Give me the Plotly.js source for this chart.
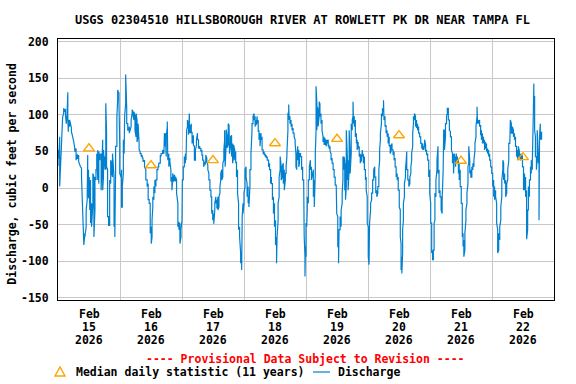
<!DOCTYPE html>
<html><head><meta charset="utf-8">
<script src="https://cdn.plot.ly/plotly-3.0.1.min.js"></script>
<style>html,body{margin:0;padding:0;background:#fff}#chart{width:576px;height:384px}</style>
</head><body><div id="chart"></div>
<script>
// ---- Data ----
const chartTitle = 'USGS 02304510 HILLSBOROUGH RIVER AT ROWLETT PK DR NEAR TAMPA FL';
const yAxisLabel = 'Discharge, cubic feet per second';
const dayNumbers = [15, 16, 17, 18, 19, 20, 21, 22];
const monthLabel = 'Feb';
const yearLabel = '2026';
const yTickValues = [-150, -100, -50, 0, 50, 100, 150, 200];

// Median daily statistic (11 years), plotted at noon of each day
const medianDays = [15, 16, 17, 18, 19, 20, 21, 22];
const medianValues = [54, 31, 38, 61, 67, 72, 37, 42];

// Discharge: hour of day -> observed value(s) (lows/highs of the jagged trace)
const feb15Hours = [0,0.3,0.65,1,1.4,1.8,2.2,2.6,2.9,3.2,3.5,3.8,4,4.5,5.2,5.7,6.1,6.5,7,7.5,8,8.7,9.1,9.6,10,10.4,10.9,11.3,11.5,11.8,12.1,12.3,12.6,13,13.5,13.9,14.3,14.7,15,15.4,15.8,16.2,16.7,17.3,17.6,18.2,18.5,18.8,19.2,19.6,20,20.4,20.8,21.1,21.7,22,22.3,22.8,23.1,23.3,23.6,23.9];
const feb15Flow = [[30,52],[40],[70,2],[35],[52],[97],[102,109],[104],[108,100],[93,88],[100],[131,93],[77,93],[84,93],[82,77],[70],[66,63],[54,50],[54,38],[46,40],[45,36],[29],[27,15],[-30,-44],[-67,-78],[-62,-67],[-53,-30],[-16,-12],[45,-10],[25,-14],[15,-26],[-12,-30],[11,-48],[-21,-53],[-21,20],[15,-67],[-30,15],[11,25],[25,47],[11,52],[6,50],[38,45],[47,-3],[66,-3],[15,52],[25,43],[25,116],[75,29],[25,-39],[-39,-51],[-51,11],[6,38],[34,20],[15,47],[15,-53],[-39,-67],[25,57],[57,98],[120,134],[127,132],[130,116],[61,20]];

const feb16Hours = [0.4,0.6,0.9,1.3,1.6,1.8,2.2,2.6,3,3.2,3.6,4.3,4.7,5.1,5.4,5.8,6.2,6.6,7,7.4,7.8,8.2,8.6,8.9,9.5,10,10.5,10.9,11.3,11.7,12.1,12.4,12.7,13.1,13.5,13.9,14.3,14.7,15,15.6,15.9,16.5,17,17.2,17.5,17.9,18.3,18.5,18.9,19.3,19.7,20.1,20.4,20.7,21.1,21.5,21.9,22.4,22.8,23.2,23.6];
const feb16Flow = [[15,20],[25,-26],[-26,2],[20,66],[47,70],[75,98],[116,155],[109,88],[88,79],[86,79],[84,75],[84,93],[102,107],[104,98],[93,104],[98,79],[70,102],[93,63],[70,88],[61,52],[50,47],[47,43],[45,41],[41,36],[38,29],[25,11],[11,2],[6,-16],[-16,-21],[-21,-62],[-53,-76],[-67,-44],[-26,-12],[-16,2],[-7,11],[2,11],[11,25],[25,29],[29,34],[34,45],[43,47],[47,52],[47,57],[63,75],[57,75],[43,70],[84,91],[75,38],[47,29],[41,36],[25,9],[15,-3],[11,20],[15,9],[11,18],[9,15],[11,-7],[-21,-53],[-46,-57],[-48,-76],[-67,-57]];

const feb17Hours = [0,0.13,0.5,0.9,1.3,1.55,1.8,2.1,2.5,2.85,3.2,3.6,3.9,4.4,4.8,5.2,5.6,6,6.4,6.9,7.3,7.7,8,8.4,8.8,9.2,9.6,10,10.4,10.8,11.2,11.5,11.9,12.3,12.7,13.1,13.5,13.9,14.3,14.7,15,15.4,15.8,16.2,16.5,16.7,17.1,17.5,17.9,18.2,18.4,18.8,19.2,19.6,20,20.4,20.8,21.1,21.5,21.9,22.3,22.7,23.1,23.3,23.6];
const feb17Flow = [[-44,-21],[-7,11],[11,29],[29,43],[34,47],[45,38],[79],[84,93],[84,73],[102,75],[86,75],[88,75],[77,61],[72,59],[57,38],[38,52],[59,66],[75,66],[66,54],[57,54],[54,50],[52,45],[45,38],[38,29],[36,31],[36,45],[41,36],[31,25],[20,11],[11,-3],[-3,-12],[-12,-35],[-30,-44],[-35,-49],[-30,-21],[-12,-21],[-16,-28],[-12,-30],[-26,-12],[-7,2],[11,20],[25,11],[15,34],[38,52],[66,79],[70,29],[60,80],[70,55],[60,88],[86,70],[75,47],[57,70],[72,43],[61,34],[43,59],[52,38],[50,34],[36,15],[25,-7],[-21,-57],[-53,-67],[-89,-103],[-94,-112],[-103,-39],[-21,-35]];

const feb18Hours = [0,0.4,0.8,1.2,1.6,1.9,2.3,2.7,3.1,3.5,3.9,4.3,4.7,5.1,5.5,5.8,6.2,6.6,7,7.4,7.8,8.2,8.6,9,9.5,9.9,10.3,10.6,11,11.4,11.8,12.2,12.6,12.8,13.2,13.6,14,14.4,14.8,15.2,15.6,16,16.3,16.6,17,17.3,17.5,17.8,18.2,18.6,19,19.4,19.8,20.1,20.4,20.8,21.2,21.5,21.9,22.3,22.7,23.1,23.3,23.6,23.8];
const feb18Flow = [[-21,-7],[2,25],[29,15],[6,-12],[2,-21],[-12,-26],[2,25],[25,47],[79,88],[88,98],[102,93],[98,84],[93,86],[98,88],[93,77],[79,66],[75,57],[75,66],[70,52],[52,47],[50,45],[47,43],[45,41],[43,38],[38,29],[34,25],[25,6],[15,6],[6,-16],[-12,-35],[-21,-53],[-44,-78],[-67,-103],[-85,-67],[-44,-21],[-12,15],[25,43],[29,11],[15,29],[34,6],[25,-3],[11,20],[20,29],[43,47],[79,102],[102,114],[111,93],[98,88],[93,84],[88,79],[82,75],[75,70],[66,61],[47,29],[25,40],[57,38],[52,29],[34,47],[47,43],[43,25],[29,11],[11,-3],[-21,-66],[-94,-121],[-112,-80]];

const feb19Hours = [0,0.26,0.5,0.9,1.3,1.7,2.1,2.85,3.2,3.6,3.9,4.2,4.4,4.7,5.1,5.4,5.8,6.2,6.6,7,7.4,7.8,8.2,8.6,8.9,9.3,9.7,10.1,10.5,10.9,11.3,11.7,11.9,12.3,12.6,12.8,13.2,13.6,14,14.3,14.7,15,15.3,15.6,16,16.3,16.7,17.1,17.5,17.9,18.2,18.4,18.7,19.1,19.5,19.8,20.2,20.6,21,21.4,21.8,22.2,22.6,23,23.3,23.7];
const feb19Flow = [[-94,-48],[-48,-53],[-30,-12],[-21,11],[11,29],[38,25],[29,11],[25,-12],[11,-26],[20,47],[79,139],[116,79],[102,111],[107,84],[98,118],[115,98],[102,88],[93,79],[70,63],[70,59],[68,59],[66,57],[66,61],[66,57],[59,54],[57,50],[47,38],[41,34],[34,25],[25,15],[15,4],[4,-12],[-12,-35],[-39,-80],[-80,-103],[-94,-57],[-57,-39],[-53,-30],[-21,-7],[11,43],[25,43],[38,-3],[34,-16],[2,79],[43,11],[38,-3],[25,79],[47,20],[47,88],[79,93],[98,118],[111,88],[98,84],[93,70],[75,61],[66,52],[63,54],[57,43],[47,34],[45,36],[52,43],[47,34],[43,25],[25,11],[15,-3],[-12,-48]];

const feb20Hours = [0.1,0.4,0.6,1,1.4,1.8,2.2,2.6,3,3.4,3.8,4.2,4.5,4.8,5.2,5.6,6,6.2,6.6,7,7.4,7.8,8.2,8.6,8.9,9.3,9.7,10.1,10.5,10.9,11.3,11.7,12.1,12.5,12.8,13.1,13.4,13.7,14.1,14.5,14.8,15,15.4,15.8,16.2,16.6,16.9,17.3,17.6,18,18.4,18.8,19.2,19.6,20,20.4,20.8,21.2,21.6,21.9,22.3,22.7,23.1,23.5,23.9];
const feb20Flow = [[-53,-94],[-105,-76],[-76,-48],[-30,-21],[-16,-7],[-7,11],[11,25],[29,15],[15,-7],[-3,-12],[-7,2],[2,25],[38,52],[66,75],[88,102],[98,109],[104,120],[111,93],[98,84],[86,75],[79,70],[75,61],[70,57],[59,47],[50,57],[61,52],[52,45],[50,38],[41,29],[29,15],[20,11],[15,-3],[-3,-26],[-30,-67],[-76,-112],[-94,-117],[-89,-57],[-44,-21],[-12,6],[15,25],[38,47],[50,25],[25,11],[11,2],[6,15],[20,29],[38,47],[57,75],[88,98],[93,102],[98,84],[93,82],[88,79],[84,75],[75,70],[70,61],[61,54],[61,52],[57,52],[59,66],[59,50],[52,45],[47,38],[38,15],[25,-7]];

const feb21Hours = [0.26,0.65,1,1.3,1.6,1.9,2.3,2.7,3.1,3.5,3.9,4.3,4.7,5.1,5.3,5.6,6,6.4,6.7,7.1,7.5,7.9,8.3,8.7,9.1,9.5,9.9,10.2,10.6,11,11.3,11.7,12.1,12.5,12.8,13.1,13.5,13.9,14.3,14.7,15,15.4,15.8,16.2,16.6,17,17.4,17.8,18.2,18.4,18.8,19.2,19.6,19.9,20.3,20.7,21.1,21.5,21.9,22.3,22.7,23.1,23.5,23.9];
const feb21Flow = [[-21,-48],[-48,-89],[-85,-98],[-98,-85],[-85,-48],[-44,-7],[-12,11],[25,38],[57,20],[25,-7],[-3,-12],[-12,-30],[-35,-16],[25,57],[57,79],[79,52],[70,88],[88,98],[102,109],[109,93],[93,79],[77,70],[70,52],[47,34],[47,20],[47,38],[43,29],[47,38],[43,34],[38,20],[34,11],[25,2],[2,-21],[-21,-67],[-62,-80],[-71,-94],[-85,-62],[-44,-30],[-21,-7],[6,29],[34,57],[38,20],[25,15],[15,29],[25,34],[29,38],[52,61],[70,84],[98,111],[98,88],[93,88],[93,84],[86,72],[79,66],[75,61],[70,61],[66,52],[63,54],[61,50],[54,47],[52,43],[47,38],[38,29],[29,20]];

const feb22Hours = [0.26,0.65,1,1.4,1.8,2.2,2.6,3,3.4,3.8,4.2,4.5,4.9,5.3,5.7,6.1,6.5,6.9,7.1,7.5,7.9,8.3,8.7,9.1,9.5,9.9,10.2,10.6,11,11.4,11.8,12.2,12.6,13,13.4,13.8,14.1,14.5,14.9,15.2,15.6,16,16.2,16.5,16.8,17.2,17.5,17.9,18.2,18.4,18.7,18.9,19.2];
const feb22Flow = [[20,2],[11,-12],[2,-16],[-3,-12],[-21,-48],[-57,-89],[-85,-62],[-71,-53],[-44,-26],[-12,11],[25,38],[34,11],[20,6],[11,-12],[-7,6],[11,25],[38,61],[61,75],[79,93],[88,75],[75,84],[79,70],[75,66],[70,57],[57,43],[52,38],[47,57],[50,41],[47,38],[41,47],[43,29],[29,-3],[20,-3],[15,-12],[-3,-70],[-57,-30],[-30,2],[-12,11],[11,29],[20,38],[25,34],[102,134],[143,125],[125,79],[70,43],[43,25],[43,79],[47,34],[43,-44],[43,70],[88,66],[84,70],[77,66]];

// ---- Build traces ----
function pad(n){ return (n < 10 ? '0' : '') + n; }
function stamp(day, h){
  const m = Math.round(h * 60);
  return '2026-02-' + pad(day) + ' ' + pad(Math.floor(m / 60)) + ':' + pad(m % 60);
}
const dayData = [
  [15, feb15Hours, feb15Flow], [16, feb16Hours, feb16Flow], [17, feb17Hours, feb17Flow],
  [18, feb18Hours, feb18Flow], [19, feb19Hours, feb19Flow], [20, feb20Hours, feb20Flow],
  [21, feb21Hours, feb21Flow], [22, feb22Hours, feb22Flow]
];
const qx = [], qy = [];
dayData.forEach(([d, hs, fs]) => {
  hs.forEach((h, i) => { (fs[i] || []).forEach(v => { qx.push(stamp(d, h)); qy.push(v); }); });
});

const FONT = '"DejaVu Sans Mono", "Liberation Mono", monospace';
const BLUE = '#0080D0';
const ORANGE = '#FFA500';

const traces = [
  { type: 'scatter', mode: 'lines', x: qx, y: qy, name: 'Discharge',
    line: { color: BLUE, width: 1.2 }, hoverinfo: 'skip' },
  { type: 'scatter', mode: 'markers', x: medianDays.map(d => stamp(d, 12)), y: medianValues,
    name: 'Median daily statistic (11 years)',
    marker: { symbol: 'triangle-up-open', size: 9.5, color: ORANGE, line: { width: 1.4, color: ORANGE } },
    hoverinfo: 'skip' }
];

const L = 58, R = 554, T = 39, B = 300;
const PW = R - L, PH = B - T;
const px = v => (v - L) / PW;       // pixel x -> paper
const pyShift = v => -(v - B);      // pixel y -> shift from plot bottom

const bold = (size, color) => ({ family: FONT, size: size, weight: 'bold', color: color || '#000' });

const annotations = [];
dayNumbers.forEach(d => {
  const x = stamp(d, 12);
  [[monthLabel, 314], [String(d), 327], [yearLabel, 340]].forEach(([t, yy]) => {
    annotations.push({ text: t, x: x, xref: 'x', y: 0, yref: 'paper', yanchor: 'middle',
      yshift: pyShift(yy), showarrow: false, font: bold(11.5) });
  });
});
annotations.push({ text: '---- Provisional Data Subject to Revision ----', x: px(305.5), xref: 'paper',
  y: 0, yref: 'paper', yanchor: 'middle', yshift: pyShift(359), showarrow: false, font: bold(11.5, '#FF0000') });
annotations.push({ text: 'Median daily statistic (11 years)', x: px(74), xref: 'paper', xanchor: 'left',
  y: 0, yref: 'paper', yanchor: 'middle', yshift: pyShift(372), showarrow: false, font: bold(11.5) });
annotations.push({ text: 'Discharge', x: px(336), xref: 'paper', xanchor: 'left',
  y: 0, yref: 'paper', yanchor: 'middle', yshift: pyShift(372), showarrow: false, font: bold(11.5) });
annotations.push({ text: yAxisLabel, textangle: -90, x: px(11.7), xref: 'paper', xanchor: 'center',
  y: (B - 174) / PH, yref: 'paper', yanchor: 'middle', showarrow: false, font: bold(11.5) });

const shapes = [
  { type: 'line', xref: 'paper', yref: 'paper', x0: px(313), x1: px(330), y0: -(372 - B) / PH, y1: -(372 - B) / PH,
    line: { color: BLUE, width: 1.2 } },
  { type: 'path', xref: 'paper', yref: 'paper', xsizemode: 'pixel', ysizemode: 'pixel',
    xanchor: px(60), yanchor: -(376 - B) / PH, path: 'M-5,0 L5,0 L0,9 Z',
    line: { color: ORANGE, width: 1.4 }, fillcolor: 'rgba(0,0,0,0)' }
];

const layout = {
  width: 576, height: 384,
  margin: { l: L, r: 576 - R, t: T, b: 384 - B, pad: 0 },
  paper_bgcolor: '#ffffff', plot_bgcolor: '#ffffff',
  showlegend: false,
  title: { text: chartTitle, font: bold(12), x: 302.5 / 576, xref: 'container', xanchor: 'center',
    y: 1 - 20 / 384, yref: 'container', yanchor: 'middle' },
  xaxis: { type: 'date', range: ['2026-02-15 00:00', '2026-02-23 00:00'],
    tick0: '2026-02-15', dtick: 86400000, showticklabels: false, ticks: '',
    showgrid: true, gridcolor: '#c8c8c8', gridwidth: 1, zeroline: false,
    showline: true, linecolor: '#000', linewidth: 1, mirror: true, fixedrange: true },
  yaxis: { range: [-153.1, 203.7], tickvals: yTickValues, ticktext: yTickValues.map(String),
    ticks: '', ticklabelstandoff: 6, tickfont: bold(11.5),
    showgrid: true, gridcolor: '#c8c8c8', gridwidth: 1, zeroline: false,
    showline: true, linecolor: '#000', linewidth: 1, mirror: true, fixedrange: true },
  annotations: annotations,
  shapes: shapes
};

Plotly.newPlot('chart', traces, layout, { staticPlot: true, displayModeBar: false });
</script>
</body></html>
